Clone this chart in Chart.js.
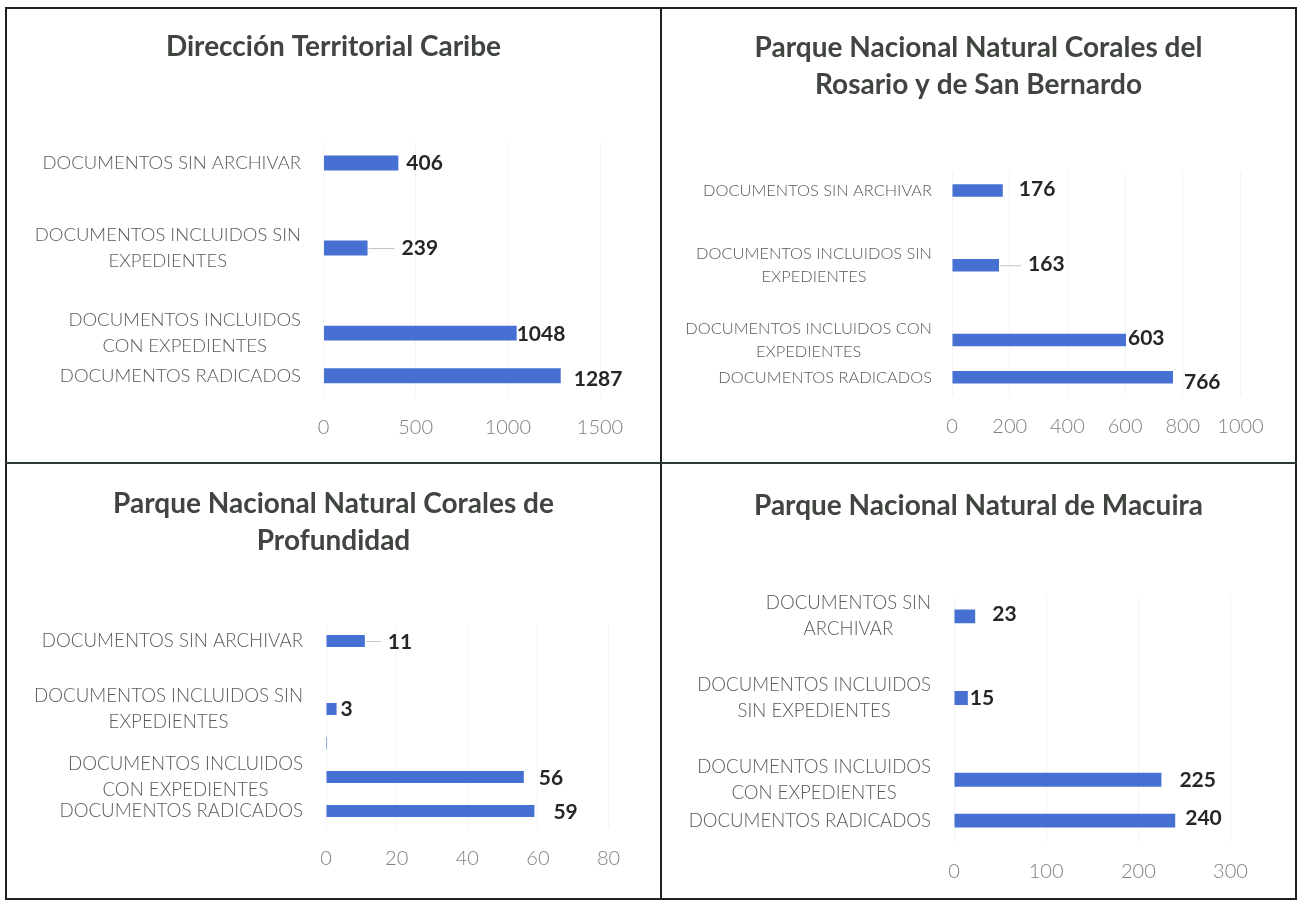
<!DOCTYPE html>
<html><head><meta charset="utf-8">
<script src="https://cdn.jsdelivr.net/npm/chart.js@4.4.1/dist/chart.umd.min.js"></script>
<style>
html,body{margin:0;padding:0;background:#fff;width:1300px;height:902px;overflow:hidden;}
.ln{position:absolute;background:#1e221f;}
canvas{position:absolute;}
</style></head><body>
<canvas id="c1" width="653" height="453" style="left:7px;top:9px"></canvas>
<canvas id="c2" width="633" height="453" style="left:662px;top:9px"></canvas>
<canvas id="c3" width="653" height="434" style="left:7px;top:464px"></canvas>
<canvas id="c4" width="633" height="434" style="left:662px;top:464px"></canvas>
<div class="ln" style="left:5px;top:7px;width:1292px;height:2px"></div>
<div class="ln" style="left:5px;top:898px;width:1292px;height:2px"></div>
<div class="ln" style="left:5px;top:7px;width:2px;height:893px"></div>
<div class="ln" style="left:1295px;top:7px;width:2px;height:893px"></div>
<div class="ln" style="left:660px;top:7px;width:2px;height:893px"></div>
<div class="ln" style="left:5px;top:462px;width:1292px;height:2px;background:#2a3a30"></div>
<script>
// ---- data ----
const title1 = 'Dirección Territorial Caribe';
const categories1 = ['DOCUMENTOS SIN ARCHIVAR', '', ['DOCUMENTOS INCLUIDOS SIN', 'EXPEDIENTES'], '', ['DOCUMENTOS INCLUIDOS', 'CON EXPEDIENTES'], 'DOCUMENTOS RADICADOS'];
const values1 = [406, null, 239, null, 1048, 1287];
const xTicks1 = [0, 500, 1000, 1500];

const title2 = ['Parque Nacional Natural Corales del', 'Rosario y de San Bernardo'];
const categories2 = ['DOCUMENTOS SIN ARCHIVAR', '', ['DOCUMENTOS INCLUIDOS SIN', 'EXPEDIENTES'], '', ['DOCUMENTOS INCLUIDOS CON', 'EXPEDIENTES'], 'DOCUMENTOS RADICADOS'];
const values2 = [176, null, 163, null, 603, 766];
const xTicks2 = [0, 200, 400, 600, 800, 1000];

const title3 = ['Parque Nacional Natural Corales de', 'Profundidad'];
const categories3 = ['DOCUMENTOS SIN ARCHIVAR', '', ['DOCUMENTOS INCLUIDOS SIN', 'EXPEDIENTES'], '', ['DOCUMENTOS INCLUIDOS', 'CON EXPEDIENTES'], 'DOCUMENTOS RADICADOS'];
const values3 = [11, null, 3, 0.3, 56, 59];
const xTicks3 = [0, 20, 40, 60, 80];

const title4 = 'Parque Nacional Natural de Macuira';
const categories4 = [['DOCUMENTOS SIN', 'ARCHIVAR'], '', ['DOCUMENTOS INCLUIDOS', 'SIN EXPEDIENTES'], '', ['DOCUMENTOS INCLUIDOS', 'CON EXPEDIENTES'], 'DOCUMENTOS RADICADOS'];
const values4 = [23, null, 15, null, 225, 240];
const xTicks4 = [0, 100, 200, 300];

// ---- plugins ----
const valueLabels = {
  id: 'valueLabels',
  afterDatasetsDraw(chart, args, opts) {
    const ctx = chart.ctx;
    const meta = chart.getDatasetMeta(0);
    const data = chart.data.datasets[0].data;
    ctx.save();
    ctx.font = 'bold ' + opts.size + 'px Lato';
    ctx.textBaseline = 'middle';
    ctx.textAlign = 'left';
    meta.data.forEach((bar, i) => {
      const v = data[i];
      if (v == null || v < 1) return;
      const off = (opts.offsets && opts.offsets[i]) || {dx: 6, dy: 0};
      const x = bar.x + off.dx, y = bar.y + off.dy;
      if (off.leader) {
        ctx.strokeStyle = '#c4c4c4';
        ctx.lineWidth = 1;
        ctx.beginPath();
        ctx.moveTo(bar.x + 1, bar.y + 0.5);
        ctx.lineTo(x - 7, bar.y + 0.5);
        ctx.stroke();
      }
      ctx.fillStyle = opts.color;
      ctx.fillText(String(v), x, y);
    });
    ctx.restore();
  }
};

const catLabels = {
  id: 'catLabels',
  afterDraw(chart, args, opts) {
    const ys = chart.scales.y;
    const ctx = chart.ctx;
    ctx.save();
    ctx.font = '300 ' + opts.size + 'px Lato';
    ctx.fillStyle = opts.color;
    ctx.textBaseline = 'middle';
    ctx.textAlign = 'center';
    const right = chart.chartArea.left - opts.gap;
    chart.data.labels.forEach((lab, i) => {
      const lines = Array.isArray(lab) ? lab : [lab];
      if (!lines[0]) return;
      const w = Math.max(...lines.map(l => ctx.measureText(l).width));
      const cx = right - w / 2;
      const y0 = ys.getPixelForValue(i) - (lines.length - 1) * opts.lineHeight / 2;
      lines.forEach((l, j) => ctx.fillText(l, cx, y0 + j * opts.lineHeight));
    });
    ctx.restore();
  }
};

function makeChart(id, title, cats, vals, ticks, o) {
  return new Chart(document.getElementById(id), {
    type: 'bar',
    data: {
      labels: cats,
      datasets: [{ data: vals, backgroundColor: '#4670d2', barPercentage: o.bp, categoryPercentage: 1 }]
    },
    options: {
      indexAxis: 'y',
      responsive: false,
      animation: false,
      layout: { padding: { left: o.padR, right: o.padR, top: 0, bottom: 0 } },
      plugins: {
        legend: { display: false },
        tooltip: { enabled: false },
        title: {
          display: true, text: title, color: '#404540',
          font: { family: 'Lato', size: 28, weight: 'bold', lineHeight: 1.32 },
          padding: { top: o.tPadT, bottom: o.tPadB }
        },
        valueLabels: { size: 21, color: '#262626', offsets: o.offsets },
        catLabels: { size: o.catSize, lineHeight: o.catLH, gap: o.gap, color: '#595959' }
      },
      scales: {
        x: {
          min: ticks[0], max: ticks[ticks.length - 1],
          ticks: { stepSize: ticks[1] - ticks[0], color: '#7f7f7f', font: { family: 'Lato', size: 20, weight: 300 }, padding: 19,
                   callback: v => String(v) },
          grid: { color: '#f4f4f4', drawTicks: false },
          border: { display: false },
          afterFit: s => { s.height = o.xH; }
        },
        y: {
          ticks: { display: false },
          grid: { display: false },
          border: { display: false },
          afterFit: s => { s.width = o.left - o.padR; }
        }
      }
    },
    plugins: [valueLabels, catLabels]
  });
}

makeChart('c1', title1, categories1, values1, xTicks1, {
  left: 316.5, padR: 60, tPadT: 19.5, tPadB: 76.2, xH: 65, bp: 0.35,
  catSize: 18.5, catLH: 26, gap: 22.5,
  offsets: [{dx: 8, dy: 0}, null, {dx: 34, dy: 0, leader: true}, null, {dx: 0, dy: 1}, {dx: 13, dy: 4}]
});
makeChart('c2', title2, categories2, values2, xTicks2, {
  left: 290, padR: 54.5, tPadT: 20.5, tPadB: 68.5, xH: 66, bp: 0.335,
  catSize: 16.4, catLH: 22.5, gap: 20,
  offsets: [{dx: 16, dy: -1}, null, {dx: 29, dy: -1, leader: true}, null, {dx: 2, dy: -2}, {dx: 11, dy: 5}]
});
makeChart('c3', title3, categories3, values3, xTicks3, {
  left: 319, padR: 51.4, tPadT: 21.5, tPadB: 64.5, xH: 70, bp: 0.35,
  catSize: 18.7, catLH: 26, gap: 23,
  offsets: [{dx: 23, dy: 1, leader: true}, null, {dx: 4, dy: 0}, null, {dx: 15, dy: 1}, {dx: 19, dy: 1}]
});
makeChart('c4', title4, categories4, values4, xTicks4, {
  left: 292, padR: 64.5, tPadT: 23.5, tPadB: 71.5, xH: 57, bp: 0.34,
  catSize: 18.6, catLH: 26, gap: 23,
  offsets: [{dx: 17, dy: -2}, null, {dx: 2, dy: 0}, null, {dx: 18, dy: 0}, {dx: 10, dy: -2}]
});
</script>
</body></html>
